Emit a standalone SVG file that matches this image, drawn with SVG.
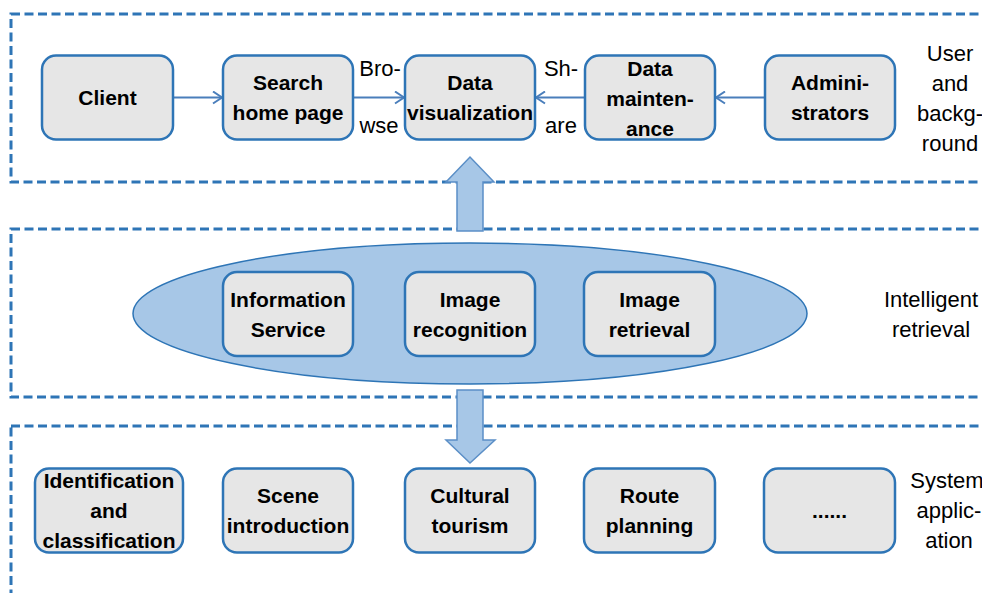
<svg xmlns="http://www.w3.org/2000/svg" width="982" height="593" viewBox="0 0 982 593">
<style>
.zone{fill:none;stroke:#2E75B6;stroke-width:3;stroke-dasharray:9 4.5}
.box{fill:#E6E6E6;stroke:#2E75B6;stroke-width:2.5}
.bt{font-family:"Liberation Sans",Arial,sans-serif;font-size:21px;font-weight:bold;fill:#000;text-anchor:middle}
.lt{font-family:"Liberation Sans",Arial,sans-serif;font-size:22px;fill:#000;text-anchor:middle}
.con{stroke:#4A7EBB;stroke-width:2;fill:none}
.big{fill:#A7C7E7;stroke:#5B8FC7;stroke-width:1.5}
</style>
<defs>
<marker id="ah" markerUnits="userSpaceOnUse" markerWidth="12" markerHeight="14" refX="10" refY="7" orient="auto">
<path d="M1,1 L10,7 L1,13" fill="none" stroke="#4A7EBB" stroke-width="2"/>
</marker>
</defs>
<rect width="982" height="593" fill="#fff"/>
<g id="zones">
<rect class="zone" x="11" y="14" width="1000" height="168"/>
<rect class="zone" x="11" y="229" width="1000" height="168"/>
<rect class="zone" x="11" y="426" width="1000" height="200"/>
</g>
<g id="layer-labels">
<text class="lt" x="950" y="61">User</text>
<text class="lt" x="950" y="91">and</text>
<text class="lt" x="950" y="121">backg-</text>
<text class="lt" x="950" y="151">round</text>
<text class="lt" x="931" y="307">Intelligent</text>
<text class="lt" x="931" y="337">retrieval</text>
<text class="lt" x="947" y="488">System</text>
<text class="lt" x="949" y="518">applic-</text>
<text class="lt" x="949" y="548">ation</text>
</g>
<g id="retrieval-ellipse">
<ellipse cx="470" cy="313.5" rx="337" ry="70.5" fill="#A7C7E7" stroke="#2E75B6" stroke-width="1.5"/>
</g>
<g id="connectors">
<line class="con" x1="173" y1="97.5" x2="222" y2="97.5" marker-end="url(#ah)"/>
<line class="con" x1="353" y1="97.5" x2="404" y2="97.5" marker-end="url(#ah)"/>
<line class="con" x1="585" y1="97.5" x2="536" y2="97.5" marker-end="url(#ah)"/>
<line class="con" x1="765" y1="97.5" x2="716" y2="97.5" marker-end="url(#ah)"/>
<polygon class="big" points="457,231 457,182 446,182 470,157 494,182 483,182 483,231"/>
<polygon class="big" points="457,390 483,390 483,440 495,440 470,463 446,440 457,440"/>
<text class="lt" x="380" y="76">Bro-</text>
<text class="lt" x="379" y="133">wse</text>
<text class="lt" x="561" y="76">Sh-</text>
<text class="lt" x="561" y="133">are</text>
</g>
<g id="client"><rect class="box" x="42" y="55.5" width="131" height="84" rx="14"/><text class="bt" x="107.5" y="105">Client</text></g>
<g id="search"><rect class="box" x="223" y="55.5" width="130" height="84" rx="14"/><text class="bt" x="288" y="90">Search</text><text class="bt" x="288" y="120">home page</text></g>
<g id="datavis"><rect class="box" x="405" y="55.5" width="130" height="84" rx="14"/><text class="bt" x="470" y="90">Data</text><text class="bt" x="470" y="120">visualization</text></g>
<g id="datamaint"><rect class="box" x="585" y="55.5" width="130" height="84" rx="14"/><text class="bt" x="650" y="76">Data</text><text class="bt" x="650" y="106">mainten-</text><text class="bt" x="650" y="136">ance</text></g>
<g id="admin"><rect class="box" x="765" y="55.5" width="130" height="84" rx="14"/><text class="bt" x="830" y="90">Admini-</text><text class="bt" x="830" y="120">strators</text></g>
<g id="infoservice"><rect class="box" x="223" y="272" width="130" height="84" rx="14"/><text class="bt" x="288" y="306.5">Information</text><text class="bt" x="288" y="336.5">Service</text></g>
<g id="imgrecog"><rect class="box" x="405" y="272" width="130" height="84" rx="14"/><text class="bt" x="470" y="306.5">Image</text><text class="bt" x="470" y="336.5">recognition</text></g>
<g id="imgretr"><rect class="box" x="584" y="272" width="131" height="84" rx="14"/><text class="bt" x="649.5" y="306.5">Image</text><text class="bt" x="649.5" y="336.5">retrieval</text></g>
<g id="identification"><rect class="box" x="35" y="468.5" width="148" height="84" rx="14"/><text class="bt" x="109" y="488">Identification</text><text class="bt" x="109" y="518">and</text><text class="bt" x="109" y="548">classification</text></g>
<g id="scene"><rect class="box" x="223" y="468.5" width="130" height="84" rx="14"/><text class="bt" x="288" y="503">Scene</text><text class="bt" x="288" y="533">introduction</text></g>
<g id="cultural"><rect class="box" x="405" y="468.5" width="130" height="84" rx="14"/><text class="bt" x="470" y="503">Cultural</text><text class="bt" x="470" y="533">tourism</text></g>
<g id="route"><rect class="box" x="584" y="468.5" width="131" height="84" rx="14"/><text class="bt" x="649.5" y="503">Route</text><text class="bt" x="649.5" y="533">planning</text></g>
<g id="more"><rect class="box" x="764" y="468.5" width="131" height="84" rx="14"/><text class="bt" x="829.5" y="518">......</text></g>
</svg>
